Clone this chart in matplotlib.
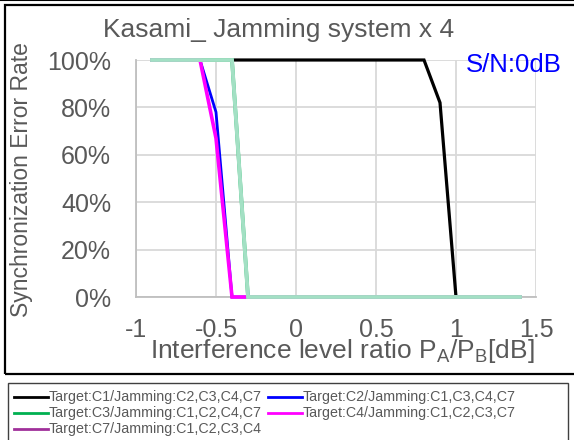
import matplotlib
matplotlib.use("Agg")
import matplotlib.pyplot as plt
from matplotlib.lines import Line2D
from matplotlib.patches import Rectangle

plt.rcParams['font.family'] = ['Liberation Sans', 'DejaVu Sans']

x = [-0.9, -0.8, -0.7, -0.6, -0.5, -0.4, -0.3, -0.2, -0.1, 0.0, 0.1, 0.2, 0.3,
     0.4, 0.5, 0.6, 0.7, 0.8, 0.9, 1.0, 1.1, 1.2, 1.3, 1.4]
c1 = [1, 1, 1, 1, 1, 1, 1, 1, 1, 1, 1, 1, 1, 1, 1, 1, 1, 1, 0.82, 0, 0, 0, 0, 0]
c2 = [1, 1, 1, 1, 0.78, 0, 0, 0, 0, 0, 0, 0, 0, 0, 0, 0, 0, 0, 0, 0, 0, 0, 0, 0]
c3 = [1, 1, 1, 1, 1, 1, 0, 0, 0, 0, 0, 0, 0, 0, 0, 0, 0, 0, 0, 0, 0, 0, 0, 0]
c4 = [1, 1, 1, 1, 0.67, 0, 0, 0, 0, 0, 0, 0, 0, 0, 0, 0, 0, 0, 0, 0, 0, 0, 0, 0]
c7 = [1, 1, 1, 1, 1, 1, 0, 0, 0, 0, 0, 0, 0, 0, 0, 0, 0, 0, 0, 0, 0, 0, 0, 0]

labels = ["Target:C1/Jamming:C2,C3,C4,C7", "Target:C2/Jamming:C1,C3,C4,C7",
          "Target:C3/Jamming:C1,C2,C4,C7", "Target:C4/Jamming:C1,C2,C3,C7",
          "Target:C7/Jamming:C1,C2,C3,C4"]
xticks = [-1, -0.5, 0, 0.5, 1, 1.5]
xticklabels = ["-1", "-0.5", "0", "0.5", "1", "1.5"]
yticks = [0, 0.2, 0.4, 0.6, 0.8, 1.0]
yticklabels = ["0%", "20%", "40%", "60%", "80%", "100%"]

plot_colors = ["#000000", "#0000ff", "#00b050", "#ff00ff", "#a3e0c4"]
legend_colors = ["#000000", "#0000ff", "#00b050", "#ff00ff", "#a0309a"]
widths = [2.3, 2.0, 2.6, 2.6, 2.8]
series = [c1, c2, c3, c4, c7]

W, H = 574, 440
fig = plt.figure(figsize=(W / 100, H / 100), dpi=100)

def fx(px):
    return px / W

def fy(py):
    return 1 - py / H

ax = fig.add_axes([fx(136), fy(297), fx(536) - fx(136), fy(60) - fy(297)])
for s, col, lw in zip(series, plot_colors, widths):
    ax.plot(x, s, color=col, lw=lw, solid_joinstyle='miter', clip_on=False, zorder=3)

ax.set_xlim(-1, 1.5)
ax.set_ylim(0, 1)
ax.set_xticks(xticks)
ax.set_xticklabels(xticklabels)
ax.set_yticks(yticks)
ax.set_yticklabels(yticklabels)
ax.tick_params(axis='both', length=0, labelsize=18, colors='#595959')
ax.tick_params(axis='x', pad=15)
ax.tick_params(axis='y', pad=18)
ax.grid(True, color='#d9d9d9', lw=1.3)
ax.set_axisbelow(True)
for side in ['top', 'right']:
    ax.spines[side].set_visible(False)
for side in ['left', 'bottom']:
    ax.spines[side].set_color('#bfbfbf')
    ax.spines[side].set_linewidth(1.3)

fig.text(fx(279), fy(30), "Kasami_ Jamming system x 4", ha='center', va='center',
         fontsize=19, color='#595959')
fig.text(fx(22), fy(180), "Synchronization Error Rate", ha='center', va='center',
         rotation=90, fontsize=16.5, color='#595959')
fig.text(fx(342), fy(351), r"Interference level ratio P$_\mathregular{A}$/P$_\mathregular{B}$[dB]",
         ha='center', va='center', fontsize=19, color='#595959')
fig.text(fx(514), fy(65), "S/N:0dB", ha='center', va='center', fontsize=18.5, color='#0000ff')

# chart border
fig.patches.append(Rectangle((fx(5), fy(374)), fx(580) - fx(5), fy(5) - fy(374),
                             transform=fig.transFigure, fill=False, ec='black', lw=1.6))
# top line from previous element
fig.lines.append(Line2D([0, 1], [fy(0.5), fy(0.5)], transform=fig.transFigure, color='black', lw=1.5))

# legend box
fig.patches.append(Rectangle((fx(8), fy(445)), fx(568) - fx(8), fy(383) - fy(445),
                             transform=fig.transFigure, fill=False, ec='#404040', lw=1.0))
pos = [(14, 48, 397), (268, 302, 397), (14, 48, 413), (268, 302, 413), (14, 48, 429)]
for (x0, x1, yy), col, lab in zip(pos, legend_colors, labels):
    fig.lines.append(Line2D([fx(x0), fx(x1)], [fy(yy), fy(yy)], transform=fig.transFigure,
                            color=col, lw=2.0))
    fig.text(fx(x1 + 1), fy(yy), lab, ha='left', va='center', fontsize=10.3,
             color='#595959', family=['Liberation Sans Narrow', 'Liberation Sans'])

fig.savefig("out.png", dpi=100)
